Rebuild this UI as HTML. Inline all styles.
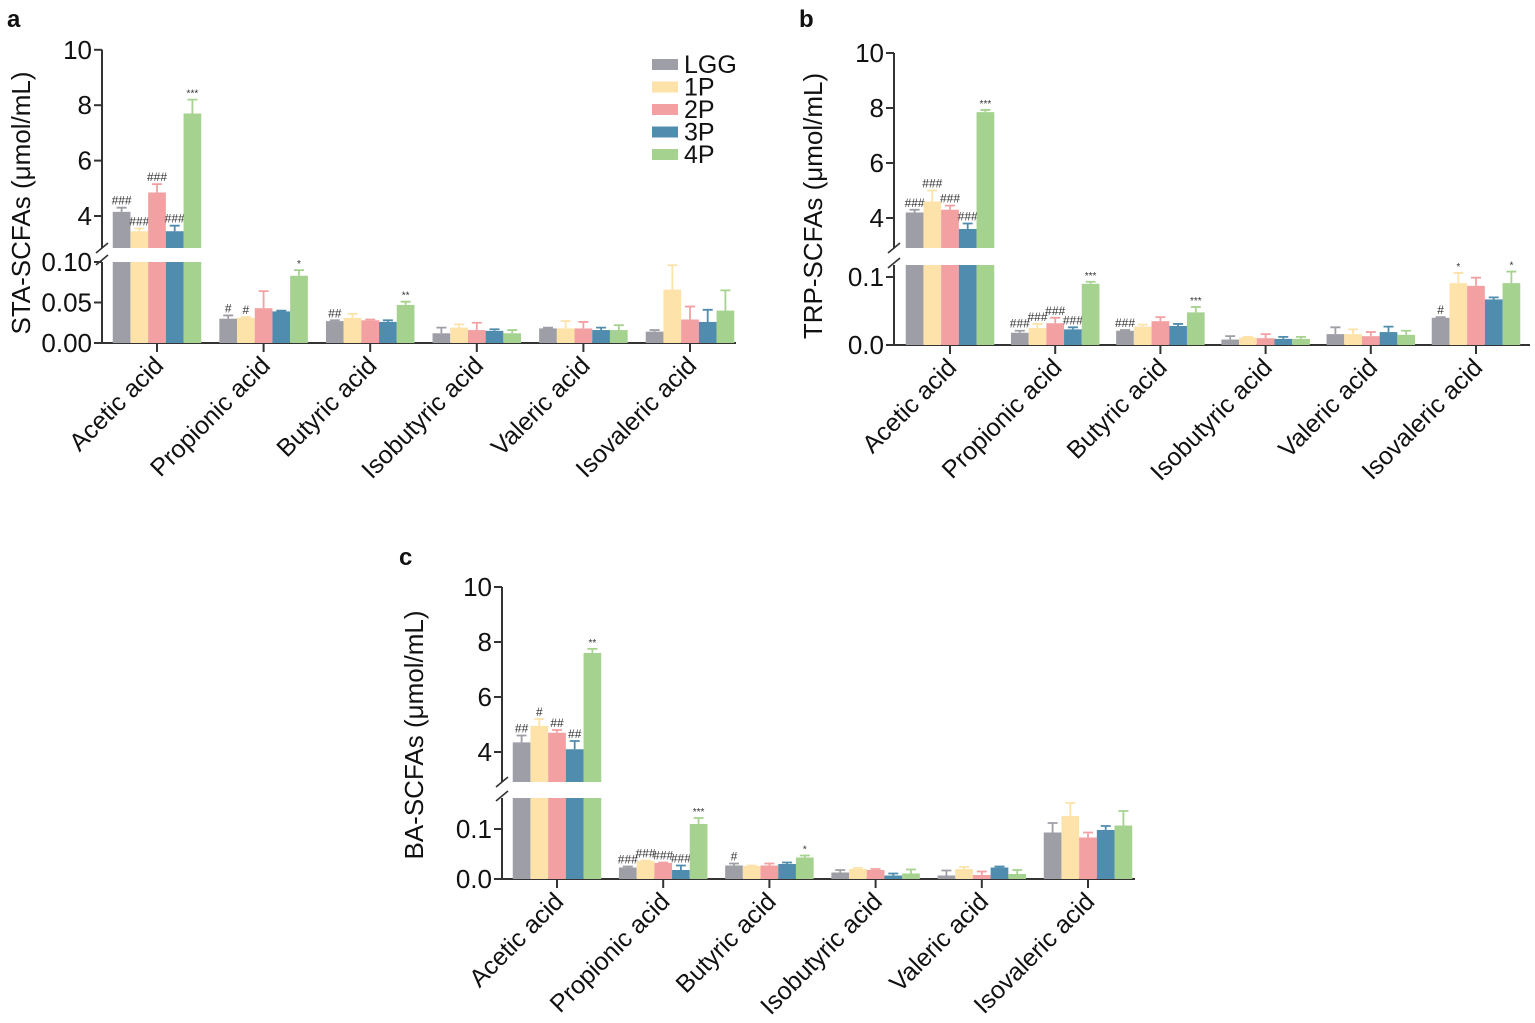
<!DOCTYPE html>
<html><head><meta charset="utf-8"><style>
html,body{margin:0;padding:0;background:#fff;}
svg{display:block;font-family:"Liberation Sans",Arial,sans-serif;}
</style></head><body>
<svg id="chart" width="1535" height="1023" viewBox="0 0 1535 1023" xmlns="http://www.w3.org/2000/svg"></svg>
<script>
const categories = ["Acetic acid","Propionic acid","Butyric acid","Isobutyric acid","Valeric acid","Isovaleric acid"];
const groups = ["LGG","1P","2P","3P","4P"];
const groupColors = ["#9e9ea6","#fde2aa","#f3a0a2","#4f8cad","#a6d28f"];

// Panel a (STA)
const aAceticMean = [4.15,3.45,4.85,3.45,7.7];
const aAceticErr = [0.15,0.1,0.3,0.2,0.5];
const aLowMean = [[0.030,0.031,0.043,0.039,0.083],[0.027,0.031,0.028,0.026,0.047],[0.012,0.019,0.016,0.015,0.012],[0.018,0.018,0.018,0.016,0.016],[0.014,0.066,0.029,0.026,0.040]];
const aLowErr = [[0.004,0.001,0.021,0.001,0.007],[0.001,0.005,0.001,0.002,0.004],[0.007,0.004,0.009,0.002,0.004],[0.001,0.009,0.008,0.003,0.006],[0.002,0.030,0.016,0.015,0.025]];
const aAnn = [["###","###","###","###","***"],["#","#","","","*"],["##","","","","**"],["","","","",""],["","","","",""],["","","","",""]];
const aUpperTicks = ["4","6","8","10"];
const aLowerTicks = ["0.00","0.05","0.10"];

// Panel b (TRP)
const bAceticMean = [4.2,4.6,4.3,3.6,7.85];
const bAceticErr = [0.1,0.4,0.15,0.2,0.08];
const bLowMean = [[0.018,0.025,0.032,0.023,0.090],[0.021,0.027,0.035,0.028,0.048],[0.008,0.011,0.010,0.009,0.009],[0.016,0.016,0.013,0.019,0.015],[0.040,0.091,0.087,0.067,0.091]];
const bLowErr = [[0.003,0.006,0.008,0.003,0.003],[0.001,0.003,0.006,0.003,0.008],[0.005,0.001,0.006,0.003,0.003],[0.010,0.007,0.006,0.008,0.006],[0.001,0.015,0.012,0.003,0.017]];
const bAnn = [["###","###","###","###","***"],["###","###","###","###","***"],["###","","","","***"],["","","","",""],["","","","",""],["#","*","","","*"]];
const bUpperTicks = ["4","6","8","10"];
const bLowerTicks = ["0.0","0.1"];

// Panel c (BA)
const cAceticMean = [4.35,4.95,4.7,4.1,7.6];
const cAceticErr = [0.25,0.25,0.1,0.3,0.15];
const cLowMean = [[0.023,0.036,0.032,0.018,0.110],[0.027,0.026,0.027,0.030,0.043],[0.013,0.020,0.018,0.007,0.011],[0.007,0.020,0.008,0.023,0.010],[0.093,0.126,0.083,0.098,0.107]];
const cLowErr = [[0.002,0.001,0.001,0.009,0.012],[0.004,0.001,0.004,0.003,0.004],[0.005,0.002,0.002,0.004,0.008],[0.010,0.004,0.007,0.002,0.008],[0.019,0.026,0.010,0.008,0.029]];
const cAnn = [["##","#","##","##","**"],["###","###","###","###","***"],["#","","","","*"],["","","","",""],["","","","",""],["","","","",""]];
const cUpperTicks = ["4","6","8","10"];
const cLowerTicks = ["0.0","0.1"];

const NS="http://www.w3.org/2000/svg";
const svg=document.getElementById('chart');
function mk(tag,attrs,parent,text){const e=document.createElementNS(NS,tag);for(const k in attrs)e.setAttribute(k,attrs[k]);if(text!==undefined)e.textContent=text;(parent||svg).appendChild(e);return e;}

function panel(cfg){
  const g=mk('g',{});
  
  
  const ax=cfg.axisX, base=cfg.baseY;
  const uy=v=>cfg.u4y-(v-4)*cfg.uScale;
  const ly=v=>base-v*cfg.lScale;
  const bw=17.7;
  const yaxis=mk('path',{d:`M${ax},${uy(10)}V${cfg.uBot} M${ax},${cfg.lTop}V${base}`,stroke:'#333',fill:'none','stroke-width':2},g);
  
  
  mk('path',{d:`M${ax-6},${cfg.uBot+5}L${ax+6},${cfg.uBot-5} M${ax-6},${cfg.lTop+3}L${ax+6},${cfg.lTop-7}`,stroke:'#333','stroke-width':1.6},g);
  const xaxis=mk('line',{x1:ax,x2:cfg.xEnd,y1:base,y2:base,stroke:'#333','stroke-width':2},g);
  
  
  cfg.uTicks.forEach(t=>{const y=uy(parseFloat(t));
    mk('line',{x1:ax-8,x2:ax,y1:y,y2:y,stroke:'#333','stroke-width':2},g);
    const tl=mk('text',{x:ax-10,y:y+9,'text-anchor':'end','font-size':26,fill:'#111'},g,t);
    
    
  });
  cfg.lTicks.forEach(t=>{const y=ly(parseFloat(t));
    mk('line',{x1:ax-8,x2:ax,y1:y,y2:y,stroke:'#333','stroke-width':2},g);
    const tl=mk('text',{x:ax-10,y:y+9,'text-anchor':'end','font-size':26,fill:'#111'},g,t);
    
    
  });
  const yt=mk('text',{x:0,y:0,'text-anchor':'middle','font-size':26,fill:'#111',transform:`translate(${cfg.titleX},${cfg.titleY}) rotate(-90)`},g,cfg.title);
  
  
  const pl=mk('text',{x:cfg.letterX,y:cfg.letterY,'font-size':24,'font-weight':'bold',fill:'#111'},g,cfg.letter);
  
  
  categories.forEach((c,ci)=>{
    const cx=cfg.firstTick+ci*cfg.tickStep;
    mk('line',{x1:cx,x2:cx,y1:base,y2:base+9,stroke:'#333','stroke-width':2},g);
    const lab=mk('text',{x:0,y:0,'text-anchor':'end','font-size':25,fill:'#111',transform:`translate(${cx+8},${base+24}) rotate(-45)`},g,c);
    
    
    groups.forEach((gn,gi)=>{
      const x=cx-2.5*bw+gi*bw;
      const col=groupColors[gi];
      let top, errTop;
      if(ci===0){
        const m=cfg.acMean[gi], e=cfg.acErr[gi];
        const lb=mk('rect',{x:x,y:cfg.lTop,width:bw,height:base-cfg.lTop,fill:col},g);
        
        
        top=uy(m); errTop=uy(m+e);
        const ub=mk('rect',{x:x,y:top,width:bw,height:cfg.uBot-top,fill:col},g);
        
        
      } else {
        const m=cfg.lMean[ci-1][gi], e=cfg.lErr[ci-1][gi];
        top=ly(m); errTop=ly(m+e);
        const b=mk('rect',{x:x,y:top,width:bw,height:base-top,fill:col},g);
        
        
      }
      const eb=mk('path',{d:`M${x+bw/2},${top}V${errTop} M${x+bw/2-5},${errTop}H${x+bw/2+5}`,stroke:col,'stroke-width':1.8,fill:'none'},g);
      
      
      const an=cfg.ann[ci][gi];
      if(an){
        const t=mk('text',{x:x+bw/2,y:errTop-3,'text-anchor':'middle','font-size':an[0]==='#'?12:10,fill:'#333'},g,an);
        
        
      }
    });
  });
}

panel({name:'panel-a-sta',letter:'a',letterX:7,letterY:27,title:'STA-SCFAs (μmol/mL)',titleX:30,titleY:203,
  axisX:102,baseY:343,xEnd:736,u4y:216,uScale:27.7,uBot:248,lTop:262,lScale:810,
  firstTick:157,tickStep:106.6,uTicks:aUpperTicks,lTicks:aLowerTicks,
  acMean:aAceticMean,acErr:aAceticErr,lMean:aLowMean,lErr:aLowErr,ann:aAnn});
panel({name:'panel-b-trp',letter:'b',letterX:799,letterY:27,title:'TRP-SCFAs (μmol/mL)',titleX:822,titleY:206,
  axisX:894,baseY:345,xEnd:1530,u4y:218,uScale:27.5,uBot:248,lTop:265,lScale:680,
  firstTick:950,tickStep:105.2,uTicks:bUpperTicks,lTicks:bLowerTicks,
  acMean:bAceticMean,acErr:bAceticErr,lMean:bLowMean,lErr:bLowErr,ann:bAnn});
panel({name:'panel-c-ba',letter:'c',letterX:399,letterY:565,title:'BA-SCFAs (μmol/mL)',titleX:423,titleY:735,
  axisX:502,baseY:879,xEnd:1135,u4y:752,uScale:27.5,uBot:782,lTop:798,lScale:500,
  firstTick:557,tickStep:106.2,uTicks:cUpperTicks,lTicks:cLowerTicks,
  acMean:cAceticMean,acErr:cAceticErr,lMean:cLowMean,lErr:cLowErr,ann:cAnn});

const lg=mk('g',{});


groups.forEach((gn,i)=>{
  const y=64+i*22.5;
  const r=mk('rect',{x:652,y:y-5,width:26,height:11,fill:groupColors[i]},lg);
  
  
  const t=mk('text',{x:684,y:y+9,'font-size':25,fill:'#111'},lg,gn);
  
  
});
</script>
</body></html>
